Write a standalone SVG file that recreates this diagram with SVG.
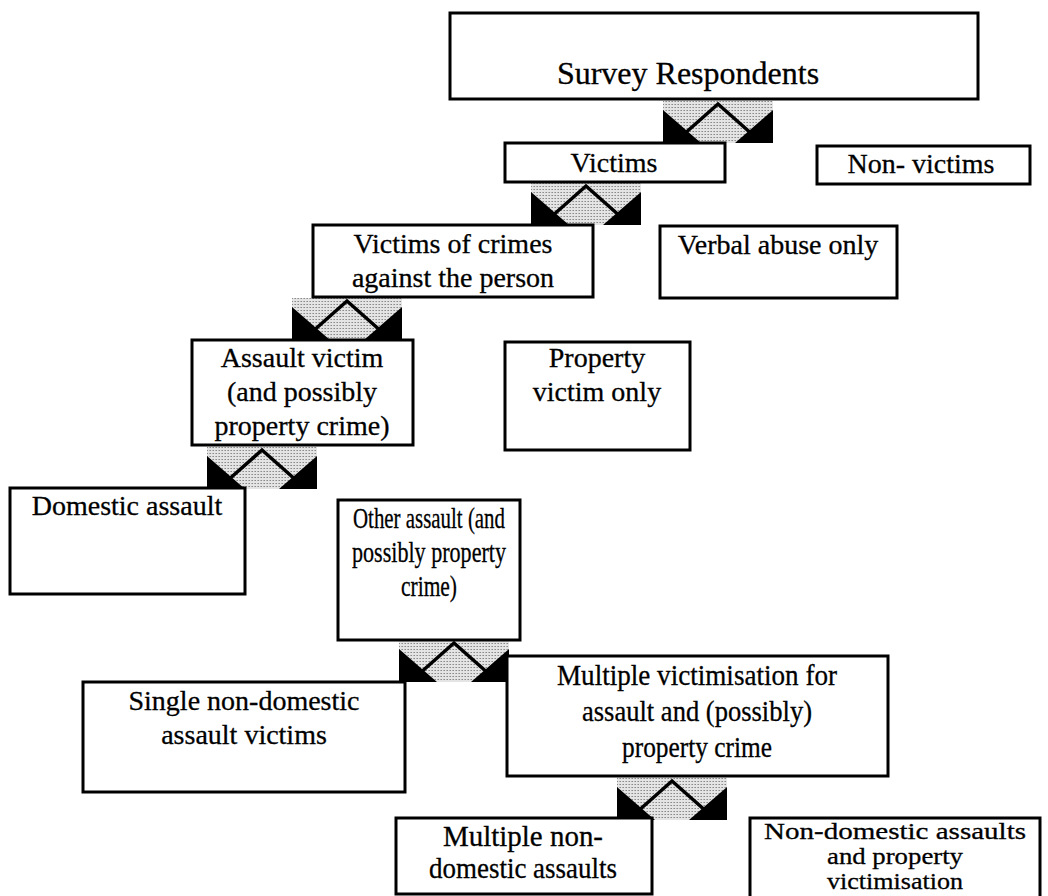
<svg xmlns="http://www.w3.org/2000/svg" width="1048" height="896" viewBox="0 0 1048 896">
<defs>
<pattern id="dots" width="3" height="3" patternUnits="userSpaceOnUse">
<rect width="3" height="3" fill="#e4e4e4"/>
<rect width="1" height="1" fill="#8a8a8a"/>
<rect x="2" y="0" width="1" height="1" fill="#b0b0b0"/>
</pattern>
<g id="conn">
<rect x="0" y="0" width="110" height="42" fill="url(#dots)"/>
<polygon points="0,9 0,42 38,42" fill="#000"/>
<polygon points="110,9 110,42 72,42" fill="#000"/>
<polyline points="20,34 55,3 90,34" fill="none" stroke="#000" stroke-width="3.5"/>
</g>
</defs>
<style>
.box{fill:#fff;stroke:#000;stroke-width:3}
.t{font-family:"Liberation Serif","Times New Roman",serif;font-size:28px;fill:#000;stroke:#000;stroke-width:0.3;text-anchor:middle}
.c{font-size:30px}
.s{font-size:24px}
</style>
<rect width="1048" height="896" fill="#fff"/>
<g id="connectors">
<use href="#conn" x="663" y="101"/>
<use href="#conn" x="531" y="183"/>
<use href="#conn" x="292" y="298"/>
<use href="#conn" x="207" y="447"/>
<use href="#conn" x="399" y="640"/>
<use href="#conn" x="617" y="778"/>
</g>
<g id="survey">
<rect class="box" x="450" y="13" width="528" height="86"/>
<text class="t" x="688" y="84" style="font-size:32px">Survey Respondents</text>
</g>
<g id="victims">
<rect class="box" x="505" y="143" width="220" height="39"/>
<text class="t" x="614" y="172">Victims</text>
</g>
<g id="nonvictims">
<rect class="box" x="817" y="146" width="213" height="38"/>
<text class="t" x="921" y="173">Non- victims</text>
</g>
<g id="person">
<rect class="box" x="313" y="225" width="280" height="72"/>
<text class="t" x="453" y="253">Victims of crimes</text>
<text class="t" x="453" y="287">against the person</text>
</g>
<g id="verbal">
<rect class="box" x="660" y="226" width="237" height="72"/>
<text class="t" x="778" y="254">Verbal abuse only</text>
</g>
<g id="assault">
<rect class="box" x="192" y="340" width="221" height="105"/>
<text class="t" x="302" y="367">Assault victim</text>
<text class="t" x="302" y="401">(and possibly</text>
<text class="t" x="302" y="435">property crime)</text>
</g>
<g id="property">
<rect class="box" x="505" y="342" width="185" height="108"/>
<text class="t" x="597" y="367">Property</text>
<text class="t" x="597" y="401">victim only</text>
</g>
<g id="domestic">
<rect class="box" x="10" y="488" width="235" height="106"/>
<text class="t" x="127" y="515">Domestic assault</text>
</g>
<g id="other">
<rect class="box" x="338" y="500" width="182" height="140"/>
<text class="t c" x="429" y="528" textLength="152" lengthAdjust="spacingAndGlyphs">Other assault (and</text>
<text class="t c" x="429" y="562" textLength="154" lengthAdjust="spacingAndGlyphs">possibly property</text>
<text class="t c" x="429" y="596" textLength="56" lengthAdjust="spacingAndGlyphs">crime)</text>
</g>
<g id="single">
<rect class="box" x="83" y="682" width="322" height="110"/>
<text class="t" x="244" y="710">Single non-domestic</text>
<text class="t" x="244" y="744">assault victims</text>
</g>
<g id="multiple">
<rect class="box" x="507" y="656" width="381" height="120"/>
<text class="t c" x="697" y="685" textLength="280" lengthAdjust="spacingAndGlyphs">Multiple victimisation for</text>
<text class="t c" x="697" y="721" textLength="230" lengthAdjust="spacingAndGlyphs">assault and (possibly)</text>
<text class="t c" x="697" y="757" textLength="150" lengthAdjust="spacingAndGlyphs">property crime</text>
</g>
<g id="multnondom">
<rect class="box" x="396" y="818" width="256" height="76"/>
<text class="t c" x="523" y="846" textLength="160" lengthAdjust="spacingAndGlyphs">Multiple non-</text>
<text class="t c" x="523" y="878" textLength="188" lengthAdjust="spacingAndGlyphs">domestic assaults</text>
</g>
<g id="nondomprop">
<rect class="box" x="750" y="818" width="290" height="90"/>
<text class="t s" x="895" y="839" textLength="262" lengthAdjust="spacingAndGlyphs">Non-domestic assaults</text>
<text class="t s" x="895" y="864" textLength="136" lengthAdjust="spacingAndGlyphs">and property</text>
<text class="t s" x="895" y="889" textLength="136" lengthAdjust="spacingAndGlyphs">victimisation</text>
</g>
</svg>
